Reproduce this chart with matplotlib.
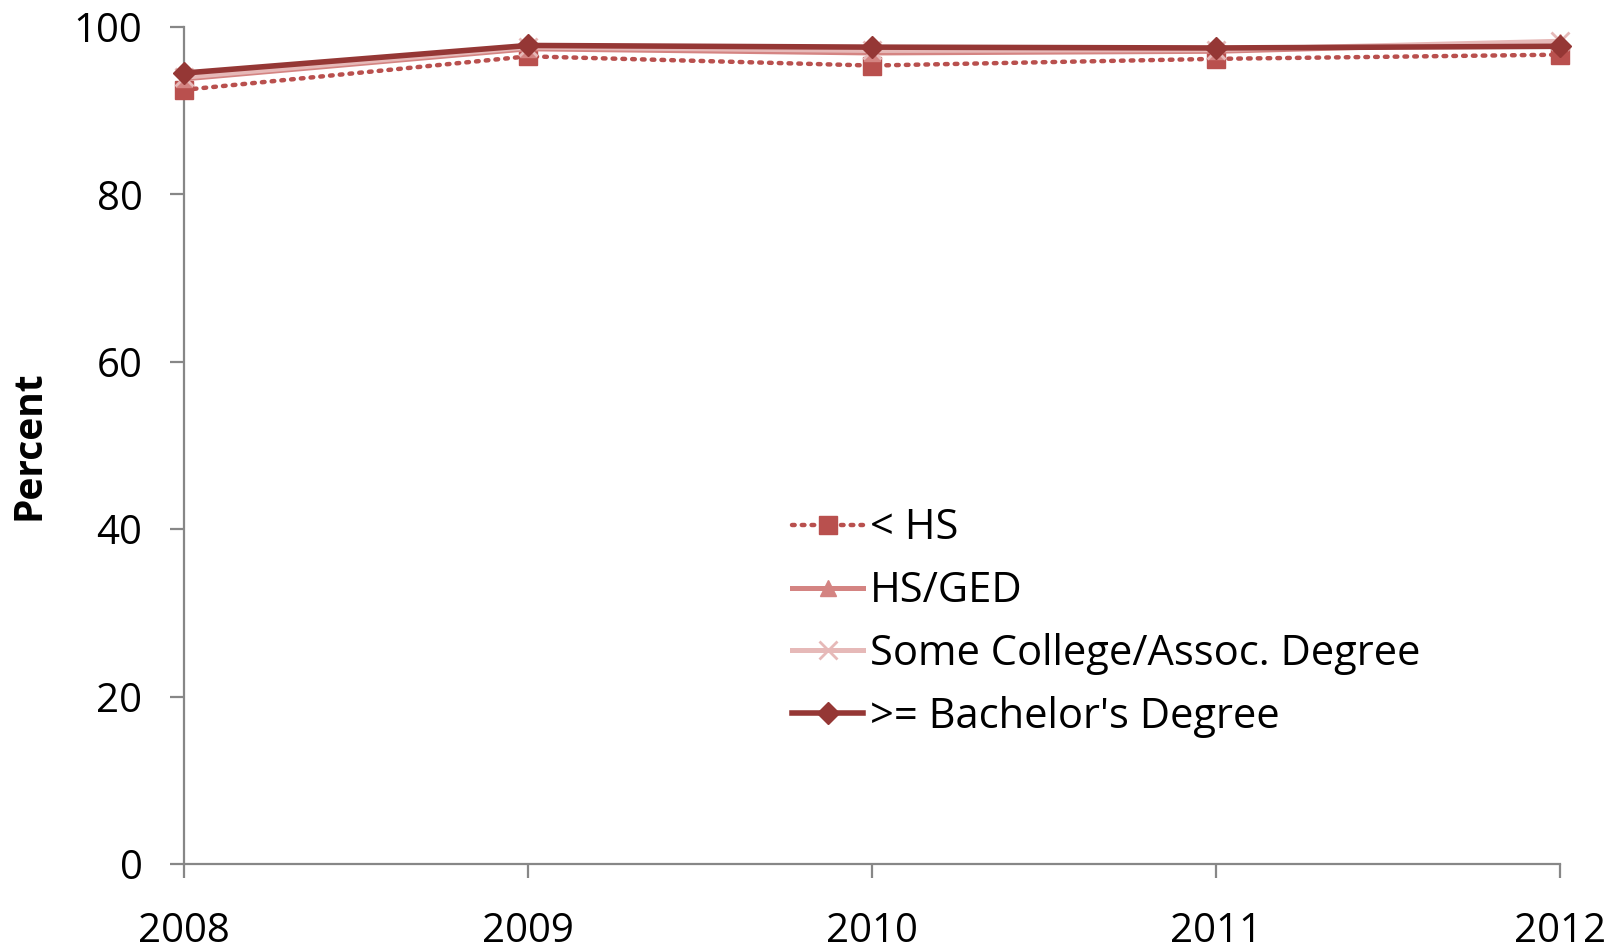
import matplotlib
matplotlib.use("Agg")
import matplotlib.pyplot as plt

years = [2008, 2009, 2010, 2011, 2012]
less_hs = [92.5, 96.5, 95.4, 96.2, 96.7]
hs_ged = [93.8, 97.4, 96.9, 97.1, 98.2]
some_college = [94.0, 97.6, 97.2, 97.3, 98.3]
bachelor = [94.5, 97.8, 97.6, 97.5, 97.7]
labels = ["< HS", "HS/GED", "Some College/Assoc. Degree", ">= Bachelor's Degree"]
yticks = [0, 20, 40, 60, 80, 100]

plt.rcParams['font.family'] = ['Open Sans', 'DejaVu Sans']

fig = plt.figure(figsize=(16.23, 9.49), dpi=100)
ax = fig.add_axes([0.1134, 0.0896, 0.8478, 0.8819])

ax.plot(years, less_hs, color="#B9504E", lw=3.2, ls=(0, (0.6, 1.6)), dash_capstyle="round",
        marker="s", ms=13, mec="#B9504E", mfc="#B9504E", label=labels[0], clip_on=False, zorder=3)
ax.plot(years, hs_ged, color="#D48482", lw=3.6, marker="^", ms=12,
        mec="#D48482", mfc="#D48482", label=labels[1], clip_on=False, zorder=3)
ax.plot(years, some_college, color="#E6B9B8", lw=3.6, marker="x", ms=13, mew=2,
        mec="#E6B9B8", label=labels[2], clip_on=False, zorder=3)
ax.plot(years, bachelor, color="#953735", lw=4.0, marker="D", ms=11,
        mec="#953735", mfc="#953735", label=labels[3], clip_on=False, zorder=4)

ax.set_xlim(2008, 2012)
ax.set_ylim(0, 100)
ax.set_yticks(yticks)
ax.set_xticks(years)
ax.set_xticklabels([str(y) for y in years])

for s in ["top", "right"]:
    ax.spines[s].set_visible(False)
for s in ["left", "bottom"]:
    ax.spines[s].set_color("#878787")
    ax.spines[s].set_linewidth(1.6)
ax.tick_params(axis="both", colors="#878787", width=1.6, length=10, labelcolor="black",
               labelsize=29, direction="out")
ax.tick_params(axis="y", pad=20)
ax.tick_params(axis="x", pad=24)

ax.set_ylabel("Percent", fontsize=28, fontweight="bold")
ax.yaxis.set_label_coords(-0.0984, 0.5)

leg = ax.legend(loc="upper left", bbox_to_anchor=(0.478, 0.483), bbox_transform=fig.transFigure,
                frameon=False, fontsize=30, handlelength=1.7, handletextpad=0.15,
                labelspacing=0.5, borderaxespad=0)

fig.savefig("out.png", dpi=100, facecolor="white")
